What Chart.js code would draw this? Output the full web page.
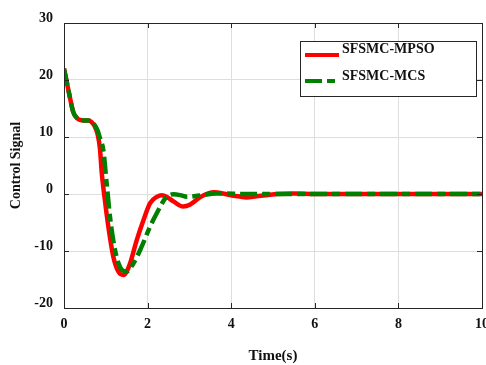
<!DOCTYPE html>
<html>
<head>
<meta charset="utf-8">
<script src="https://cdn.jsdelivr.net/npm/chart.js@4/dist/chart.umd.min.js"></script>
<style>
html,body{margin:0;padding:0;background:#fff;}
#wrap{width:486px;height:365px;}
</style>
</head>
<body>
<div id="wrap"><canvas id="c" width="486" height="365"></canvas></div>
<script>
const seriesNames = ["SFSMC-MPSO", "SFSMC-MCS"];
const xTicks = [0, 2, 4, 6, 8, 10];
const yTicks = [-20, -10, 0, 10, 20, 30];

const tMPSO = [0, 0.07, 0.14, 0.22, 0.3, 0.38, 0.48, 0.58, 0.66, 0.74, 0.8, 0.86, 0.9, 0.94, 0.98, 1.06, 1.18, 1.3, 1.42, 1.5, 1.58, 1.74, 1.9, 2.06, 2.22, 2.34, 2.48, 2.62, 2.85, 3.01, 3.25, 3.45, 3.6, 3.8, 3.97, 4.17, 4.37, 4.6, 4.85, 5.1, 5.5, 6, 7, 8, 9, 10];
const vMPSO = [22, 19.5, 17, 14.4, 13.4, 13, 12.9, 12.9, 12.6, 11.8, 10.6, 8, 4, 1.2, -1.2, -5.7, -11, -13.6, -14.2, -13.6, -12.2, -8.1, -4.6, -1.6, -0.5, -0.2, -0.6, -1.3, -2.2, -1.9, -0.6, 0.1, 0.3, 0.1, -0.2, -0.4, -0.6, -0.4, -0.2, 0, 0.1, 0, 0, 0, 0, 0];

const tMCS = [0, 0.07, 0.14, 0.22, 0.3, 0.38, 0.48, 0.58, 0.66, 0.74, 0.8, 0.86, 0.94, 1.02, 1.1, 1.22, 1.34, 1.5, 1.66, 1.86, 2.06, 2.26, 2.42, 2.62, 2.78, 2.94, 3.1, 3.3, 3.5, 3.65, 3.9, 4.2, 4.6, 5, 6, 7, 8, 9, 10];
const vMCS = [22, 19.5, 17, 14.4, 13.4, 13, 12.9, 12.9, 12.7, 12, 11.2, 9.8, 7.7, 1.9, -4, -9.8, -12.8, -13.6, -12.2, -9.2, -5.7, -2.8, -0.8, -0.05, -0.2, -0.5, -0.4, -0.2, 0, 0.1, 0.1, 0, 0, 0, 0, 0, 0, 0, 0];

const FONT = "'Liberation Serif', 'Times New Roman', serif";

function pts(t, v) { return t.map((x, i) => ({x: x, y: v[i]})); }

const frameAndTicks = {
  id: 'frameAndTicks',
  afterDatasetsDraw(chart) {
    const {ctx, chartArea: a, scales} = chart;
    ctx.save();
    ctx.strokeStyle = '#262626';
    ctx.lineWidth = 1;
    ctx.strokeRect(Math.round(a.left) + 0.5, Math.round(a.top) + 0.5, Math.round(a.right - a.left), Math.round(a.bottom - a.top));
    const L = 5;
    ctx.beginPath();
    xTicks.forEach(v => {
      const x = Math.round(scales.x.getPixelForValue(v)) + 0.5;
      ctx.moveTo(x, a.bottom); ctx.lineTo(x, a.bottom - L);
      ctx.moveTo(x, a.top); ctx.lineTo(x, a.top + L);
    });
    yTicks.forEach(v => {
      const y = Math.round(scales.y.getPixelForValue(v)) + 0.5;
      ctx.moveTo(a.left, y); ctx.lineTo(a.left + L, y);
      ctx.moveTo(a.right, y); ctx.lineTo(a.right - L, y);
    });
    ctx.stroke();
    ctx.restore();
  },
  afterDraw(chart) {
    const ctx = chart.ctx;
    ctx.save();
    const bx = 300, by = 41, bw = 176, bh = 55;
    ctx.fillStyle = '#fff';
    ctx.fillRect(bx, by, bw, bh);
    ctx.strokeStyle = '#262626';
    ctx.lineWidth = 1;
    ctx.strokeRect(bx + 0.5, by + 0.5, bw, bh);
    const ds = chart.data.datasets;
    ctx.lineWidth = 4;
    ctx.strokeStyle = ds[0].borderColor;
    ctx.setLineDash([]);
    ctx.beginPath(); ctx.moveTo(305, 55); ctx.lineTo(339, 55); ctx.stroke();
    ctx.strokeStyle = ds[1].borderColor;
    ctx.setLineDash(ds[1].borderDash);
    ctx.beginPath(); ctx.moveTo(305, 81); ctx.lineTo(339, 81); ctx.stroke();
    ctx.setLineDash([]);
    ctx.fillStyle = '#111';
    ctx.font = 'bold 14px ' + FONT;
    ctx.textBaseline = 'middle';
    ctx.textAlign = 'left';
    ctx.fillText(ds[0].label, 342, 49);
    ctx.fillText(ds[1].label, 342, 76);
    ctx.restore();
  }
};

new Chart(document.getElementById('c'), {
  type: 'line',
  data: {
    datasets: [
      {label: seriesNames[0], order: 1, data: pts(tMPSO, vMPSO), borderColor: '#ff0000', borderWidth: 4.5, pointRadius: 0, fill: false, cubicInterpolationMode: 'monotone'},
      {label: seriesNames[1], order: 0, data: pts(tMCS, vMCS), borderColor: '#008000', borderWidth: 4.5, borderDash: [17, 5, 8, 5], pointRadius: 0, fill: false, cubicInterpolationMode: 'monotone'}
    ]
  },
  options: {
    responsive: false,
    animation: false,
    devicePixelRatio: 1,
    layout: {padding: {left: 0, right: 4, top: 23, bottom: 0}},
    plugins: {legend: {display: false}, tooltip: {enabled: false}},
    scales: {
      x: {
        type: 'linear', min: 0, max: 10,
        afterFit(s) { s.height = 57; s.paddingLeft = 0; s.paddingRight = 0; },
        afterBuildTicks(s) { s.ticks = xTicks.map(v => ({value: v})); },
        grid: {color: '#dedede', drawTicks: false, lineWidth: 1},
        border: {display: false},
        ticks: {color: '#111', font: {family: FONT, size: 14, weight: 'bold'}, padding: 8, maxRotation: 0, autoSkip: false},
        title: {display: true, text: 'Time(s)', color: '#111', font: {family: FONT, size: 15, weight: 'bold'}, padding: {top: 12, bottom: 0}}
      },
      y: {
        type: 'linear', min: -20, max: 30,
        afterFit(s) { s.width = 64; s.paddingTop = 0; s.paddingBottom = 0; },
        afterBuildTicks(s) { s.ticks = yTicks.map(v => ({value: v})); },
        grid: {color: '#dedede', drawTicks: false, lineWidth: 1},
        border: {display: false},
        ticks: {color: '#111', font: {family: FONT, size: 14, weight: 'bold'}, padding: 11, labelOffset: -5, autoSkip: false},
        title: {display: true, text: 'Control Signal', color: '#111', font: {family: FONT, size: 14, weight: 'bold'}, padding: {top: 8, bottom: 8}}
      }
    }
  },
  plugins: [frameAndTicks]
});
</script>
</body>
</html>
